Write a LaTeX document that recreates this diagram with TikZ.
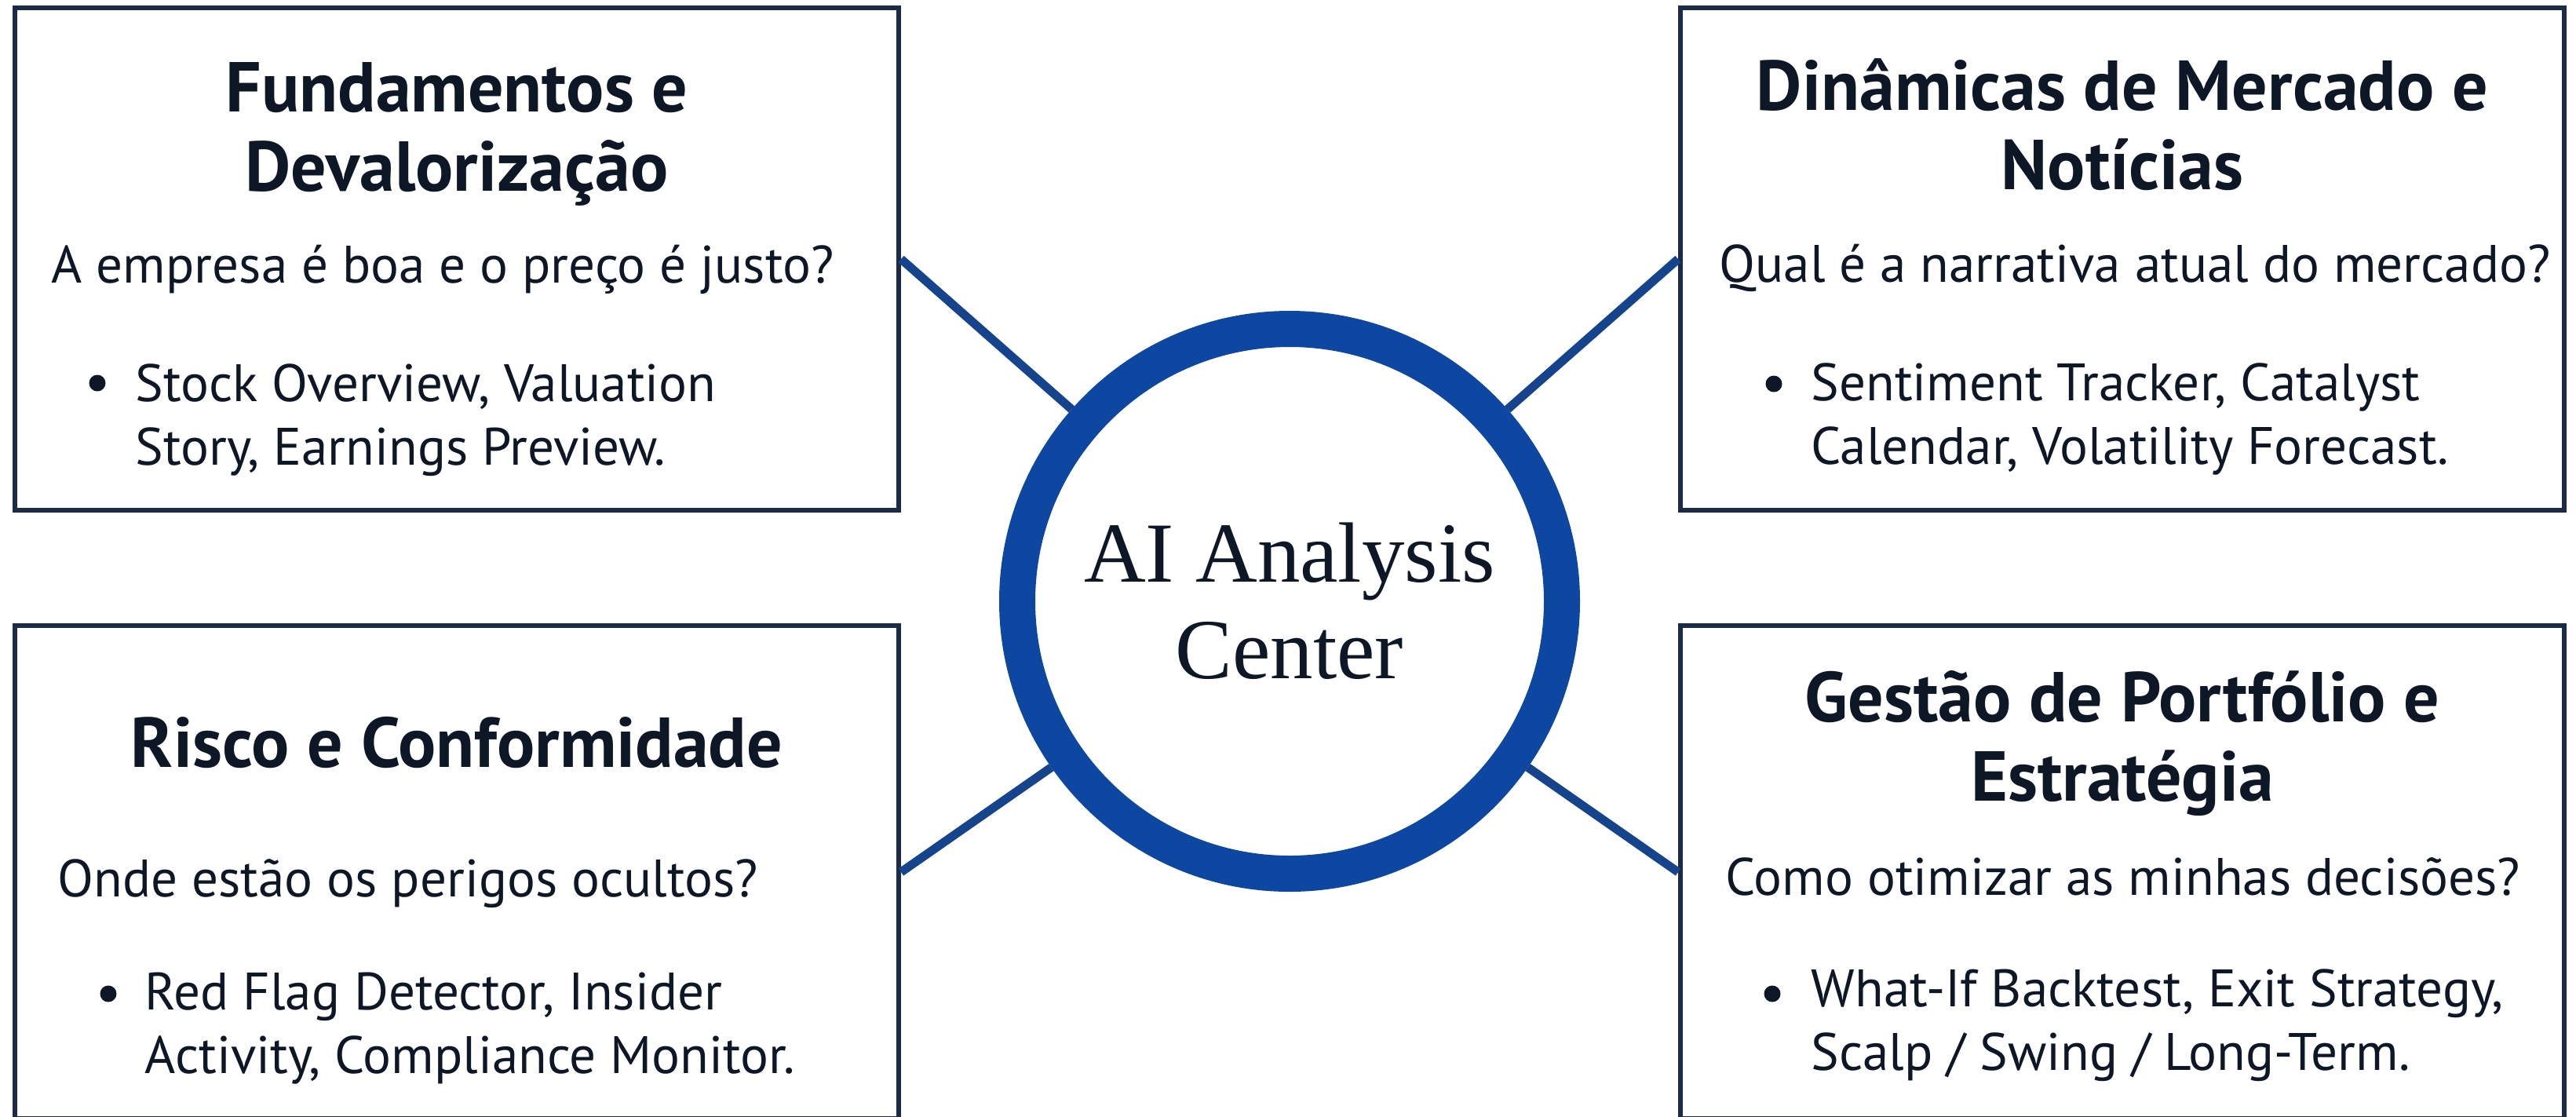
\documentclass[tikz,border=0pt]{standalone}
\usepackage{fontspec}
\setmainfont{PT Sans}
\newfontfamily\hubfont{Liberation Serif}
\definecolor{boxline}{RGB}{27,42,71}
\definecolor{ringblue}{RGB}{14,71,161}
\definecolor{linkblue}{RGB}{22,68,140}
\definecolor{inktext}{RGB}{14,23,38}

\begin{document}
\begin{tikzpicture}[
  panelbox/.style={draw=boxline,line width=0.06cm,minimum width=11.26cm,inner sep=0},
  hdtext/.style={anchor=base,align=center,inner sep=0,text=inktext,font=\fontsize{25.6}{28.7}\selectfont\bfseries},
  asktext/.style={anchor=base west,inner sep=0,text=inktext,font=\fontsize{19.1}{22.8}\selectfont},
  itemtext/.style={anchor=base west,align=left,inner sep=0,text=inktext,font=\fontsize{19.1}{22.8}\selectfont},
  bulletdot/.style={circle,fill=inktext,minimum size=0.21cm,inner sep=0},
  linkline/.style={draw=linkblue,line width=0.11cm},
  hubring/.style={circle,draw=ringblue,fill=white,line width=0.46cm,minimum size=6.94cm,inner sep=0,
    align=center,text=inktext,font=\hubfont\fontsize{31}{35}\selectfont}
]
\useasboundingbox (0,0) rectangle (32.82,-14.22);
\fill[white] (0,0) rectangle (32.82,-14.22);

\node[panelbox,minimum height=6.40cm] (fund) at (5.82,-3.30) {};
\node[panelbox,minimum height=6.40cm] (merc) at (27.04,-3.30) {};
\node[panelbox,minimum height=6.28cm] (risco) at (5.82,-11.11) {};
\node[panelbox,minimum height=6.28cm] (gest) at (27.04,-11.11) {};

\node[hubring] (hub) at (16.43,-7.66) {AI Analysis\\Center};

\draw[linkline] (fund.east) -- (hub);
\draw[linkline] (merc.west) -- (hub);
\draw[linkline] (risco.east) -- (hub);
\draw[linkline] (gest.west) -- (hub);

\node[hdtext] (fundT) at (5.82,-2.43) {Fundamentos e\\Devalorização};
\node[asktext] (fundQ) at (0.65,-3.60) {A empresa é boa e o preço é justo?};
\node[bulletdot] (fundD) at (1.24,-4.88) {};
\node[itemtext] (fundB) at (1.72,-5.92) {Stock Overview, Valuation\\Story, Earnings Preview.};

\node[hdtext] (mercT) at (27.04,-2.41) {Dinâmicas de Mercado e\\Notícias};
\node[asktext] (mercQ) at (21.90,-3.59) {Qual é a narrativa atual do mercado?};
\node[bulletdot] (mercD) at (22.60,-4.89) {};
\node[itemtext] (mercB) at (23.07,-5.91) {Sentiment Tracker, Catalyst\\Calendar, Volatility Forecast.};

\node[hdtext] (riscoT) at (5.82,-9.77) {Risco e Conformidade};
\node[asktext] (riscoQ) at (0.73,-11.42) {Onde estão os perigos ocultos?};
\node[bulletdot] (riscoD) at (1.38,-12.66) {};
\node[itemtext] (riscoB) at (1.84,-13.67) {Red Flag Detector, Insider\\Activity, Compliance Monitor.};

\node[hdtext] (gestT) at (27.04,-10.20) {Gestão de Portfólio e\\Estratégia};
\node[asktext] (gestQ) at (21.98,-11.40) {Como otimizar as minhas decisões?};
\node[bulletdot] (gestD) at (22.58,-12.66) {};
\node[itemtext] (gestB) at (23.07,-13.63) {What-If Backtest, Exit Strategy,\\Scalp / Swing / Long-Term.};
\end{tikzpicture}
\end{document}
